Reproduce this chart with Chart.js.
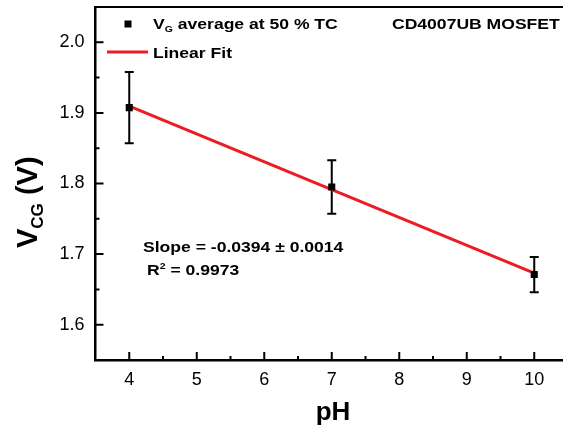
<!DOCTYPE html>
<html lang="en">
<head>
    <meta charset="UTF-8">
    <title>VCG vs pH</title>
    <script src="https://cdn.jsdelivr.net/npm/chart.js"></script>
    <style>
        html, body { margin: 0; padding: 0; background: #fff; overflow: hidden; }
        .chart-container { position: relative; width: 573px; height: 430px; }
    </style>
</head>
<body>
    <div class="chart-container">
        <canvas id="vcgChart" width="573" height="430"></canvas>
    </div>

    <script>
        const phValues = [4, 7, 10];
        const vcgValues = [1.9075, 1.795, 1.671];
        const vcgErrors = [0.0505, 0.038, 0.025];

        // linear fit end points
        const fitPh = [4, 10];
        const fitVcg = [1.9095, 1.6731];

        // axis ticks
        const xMajorTicks = [4, 5, 6, 7, 8, 9, 10];
        const xMinorTicks = [4.5, 5.5, 6.5, 7.5, 8.5, 9.5];
        const yMajorTicks = [1.6, 1.7, 1.8, 1.9, 2.0];
        const yMinorTicks = [1.65, 1.75, 1.85, 1.95];

        const FONT = '"Liberation Sans", Arial, sans-serif';

        // draws a list of text runs [text, size, dy] starting at x,y, stretched horizontally
        function drawRuns(ctx, runs, x, y, sx) {
            ctx.save();
            ctx.translate(x, y);
            ctx.scale(sx, 1);
            let cx = 0;
            runs.forEach(r => {
                ctx.font = 'bold ' + r[1] + 'px ' + FONT;
                ctx.fillText(r[0], cx, r[2] || 0);
                cx += ctx.measureText(r[0]).width;
            });
            ctx.restore();
        }

        const errorBarPlugin = {
            id: 'errorBars',
            beforeDatasetsDraw(chart) {
                const ctx = chart.ctx;
                const xs = chart.scales.x, ys = chart.scales.y;
                ctx.save();
                ctx.strokeStyle = '#000';
                ctx.lineWidth = 2;
                phValues.forEach((ph, i) => {
                    const px = xs.getPixelForValue(ph);
                    const top = ys.getPixelForValue(vcgValues[i] + vcgErrors[i]);
                    const bot = ys.getPixelForValue(vcgValues[i] - vcgErrors[i]);
                    ctx.beginPath();
                    ctx.moveTo(px, top); ctx.lineTo(px, bot);
                    ctx.moveTo(px - 4.5, top); ctx.lineTo(px + 4.5, top);
                    ctx.moveTo(px - 4.5, bot); ctx.lineTo(px + 4.5, bot);
                    ctx.stroke();
                });
                ctx.restore();
            }
        };

        const decorPlugin = {
            id: 'decor',
            afterDraw(chart) {
                const ctx = chart.ctx;
                const area = chart.chartArea;
                const xs = chart.scales.x, ys = chart.scales.y;
                ctx.save();
                ctx.strokeStyle = '#000';
                ctx.fillStyle = '#000';

                // top frame line
                ctx.lineWidth = 2;
                ctx.beginPath();
                ctx.moveTo(area.left, area.top);
                ctx.lineTo(area.right, area.top);
                ctx.stroke();

                // inward tick marks
                ctx.beginPath();
                xMajorTicks.forEach(v => {
                    const p = xs.getPixelForValue(v);
                    ctx.moveTo(p, area.bottom); ctx.lineTo(p, area.bottom - 8);
                });
                xMinorTicks.forEach(v => {
                    const p = xs.getPixelForValue(v);
                    ctx.moveTo(p, area.bottom); ctx.lineTo(p, area.bottom - 4);
                });
                yMajorTicks.forEach(v => {
                    const p = ys.getPixelForValue(v);
                    ctx.moveTo(area.left, p); ctx.lineTo(area.left + 8, p);
                });
                yMinorTicks.forEach(v => {
                    const p = ys.getPixelForValue(v);
                    ctx.moveTo(area.left, p); ctx.lineTo(area.left + 4, p);
                });
                ctx.stroke();

                // legend
                ctx.textBaseline = 'alphabetic';
                ctx.textAlign = 'left';
                ctx.fillRect(124.5, 20.5, 7, 7);
                drawRuns(ctx, [['V', 15], ['G', 9, 3], [' average at 50 % TC', 15]], 153, 29, 1.17);
                drawRuns(ctx, [['CD4007UB MOSFET', 15]], 392, 29, 1.17);
                ctx.strokeStyle = 'rgb(237,28,36)';
                ctx.lineWidth = 3;
                ctx.beginPath();
                ctx.moveTo(107, 52); ctx.lineTo(148, 52);
                ctx.stroke();
                drawRuns(ctx, [['Linear Fit', 15]], 153, 58, 1.17);

                // fit annotation
                drawRuns(ctx, [['Slope = -0.0394 \u00b1 0.0014', 15]], 143, 252, 1.17);
                drawRuns(ctx, [['R', 15], ['2', 9, -6], [' = 0.9973', 15]], 147, 275, 1.17);

                // axis titles
                ctx.font = 'bold 26px ' + FONT;
                ctx.textAlign = 'center';
                ctx.fillText('pH', 333, 420);

                ctx.save();
                ctx.translate(37, 248);
                ctx.rotate(-Math.PI / 2);
                ctx.textAlign = 'left';
                let cx = 0;
                ctx.font = 'bold 29px ' + FONT;
                ctx.fillText('V', cx, 0); cx += ctx.measureText('V').width;
                ctx.font = 'bold 17px ' + FONT;
                ctx.fillText('CG', cx, 6); cx += ctx.measureText('CG').width;
                ctx.font = 'bold 29px ' + FONT;
                ctx.fillText(' (V)', cx, 0);
                ctx.restore();

                ctx.restore();
            }
        };

        const ctx = document.getElementById('vcgChart').getContext('2d');
        new Chart(ctx, {
            type: 'scatter',
            data: {
                datasets: [
                    {
                        label: 'VG average at 50 % TC',
                        data: phValues.map((x, i) => ({ x: x, y: vcgValues[i] })),
                        pointStyle: 'rect',
                        pointRadius: 5,
                        backgroundColor: '#000',
                        borderColor: '#000',
                        borderWidth: 0,
                        showLine: false,
                        order: 1
                    },
                    {
                        label: 'Linear Fit',
                        data: fitPh.map((x, i) => ({ x: x, y: fitVcg[i] })),
                        showLine: true,
                        borderColor: 'rgb(237,28,36)',
                        borderWidth: 3,
                        pointRadius: 0,
                        order: 2
                    }
                ]
            },
            options: {
                responsive: false,
                animation: false,
                layout: { padding: { top: 7, right: 2.3, left: 0, bottom: 0 } },
                plugins: {
                    legend: { display: false },
                    tooltip: { enabled: false }
                },
                scales: {
                    x: {
                        type: 'linear',
                        min: 3.5,
                        max: 10.5,
                        afterFit(scale) {
                            scale.height = 70;
                            scale.paddingLeft = 0;
                            scale.paddingRight = 0;
                        },
                        afterBuildTicks(scale) { scale.ticks = xMajorTicks.map(v => ({ value: v })); },
                        grid: { display: false, drawTicks: false },
                        border: { display: true, color: '#000', width: 2.5 },
                        ticks: {
                            color: '#000',
                            padding: 9,
                            maxRotation: 0,
                            font: { family: FONT, size: 18 }
                        }
                    },
                    y: {
                        type: 'linear',
                        min: 1.55,
                        max: 2.05,
                        afterFit(scale) {
                            scale.width = 95.5;
                            scale.paddingTop = 0;
                            scale.paddingBottom = 0;
                        },
                        afterBuildTicks(scale) { scale.ticks = yMajorTicks.map(v => ({ value: v })); },
                        grid: { display: false, drawTicks: false },
                        border: { display: true, color: '#000', width: 2.5 },
                        ticks: {
                            color: '#000',
                            padding: 11,
                            font: { family: FONT, size: 18 },
                            callback: v => v.toFixed(1)
                        }
                    }
                }
            },
            plugins: [errorBarPlugin, decorPlugin]
        });
    </script>
</body>
</html>
